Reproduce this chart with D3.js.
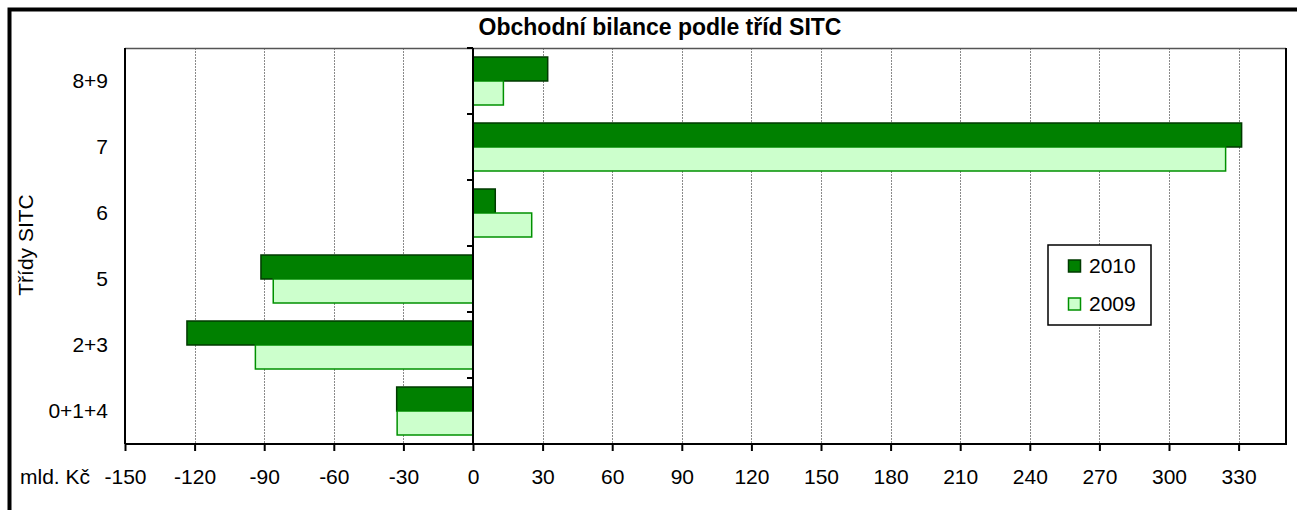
<!DOCTYPE html>
<html>
<head>
<meta charset="utf-8">
<script src="https://cdn.jsdelivr.net/npm/d3@7"></script>
<style>
  body { margin: 0; background: #fff; }
  svg text { font-family: "Liberation Sans", Arial, sans-serif; fill: #000; }
</style>
</head>
<body>
<svg id="chart" width="1297" height="510"></svg>
<script>
// SITC classes, top to bottom as in the chart
var categories = ["8+9", "7", "6", "5", "2+3", "0+1+4"];
var years = ["2010", "2009"];
// balance in bn CZK
var values2010 = [32.2, 331.3, 9.6, -91.4, -123.3, -32.9];
var values2009 = [13.1, 324.4, 25.3, -86.1, -93.8, -32.7];
var xTicks = [-150, -120, -90, -60, -30, 0, 30, 60, 90, 120, 150, 180, 210, 240, 270, 300, 330];

var fills = {"2010": "#008000", "2009": "#ccffcc"};
var strokes = {"2010": "#003a00", "2009": "#009000"};
var fs = 21;

var svg = d3.select("#chart");
var plot = {left: 125, right: 1285, top: 48, bottom: 444};

// outer frame (only top + left are inside the picture)
svg.append("rect")
  .attr("x", 9.5).attr("y", 9.5)
  .attr("width", 1400).attr("height", 600)
  .attr("fill", "none").attr("stroke", "#000").attr("stroke-width", 4);

var x = d3.scaleLinear().domain([-150, 350]).range([plot.left, plot.right]);
var y = d3.scaleBand().domain(categories).range([plot.top, plot.bottom]);
var yInner = d3.scaleBand().domain(years).range([0, y.bandwidth()]).paddingOuter(0.375);

// gridlines
svg.append("g").selectAll("line")
  .data(xTicks.filter(function(d) { return d != 0 && d != -150; }))
  .join("line")
  .attr("x1", function(d) { return Math.round(x(d)) + 0.5; })
  .attr("x2", function(d) { return Math.round(x(d)) + 0.5; })
  .attr("y1", plot.top).attr("y2", plot.bottom)
  .attr("stroke", "#8a8a8a").attr("stroke-width", 1)
  .attr("stroke-dasharray", "2,1");

// plot area frame
svg.append("line").attr("x1", plot.left).attr("x2", plot.right + 1)
  .attr("y1", plot.top + 0.5).attr("y2", plot.top + 0.5)
  .attr("stroke", "#555").attr("stroke-width", 1.5);
svg.append("line").attr("x1", plot.right + 1).attr("x2", plot.right + 1)
  .attr("y1", plot.top).attr("y2", plot.bottom)
  .attr("stroke", "#000").attr("stroke-width", 2);
svg.append("line").attr("x1", plot.left).attr("x2", plot.left)
  .attr("y1", plot.top).attr("y2", plot.bottom)
  .attr("stroke", "#000").attr("stroke-width", 2);

// bars
var rows = [];
categories.forEach(function(c, i) {
  rows.push({cat: c, year: "2010", v: values2010[i]});
  rows.push({cat: c, year: "2009", v: values2009[i]});
});

svg.append("g").selectAll("rect")
  .data(rows)
  .join("rect")
  .attr("x", function(d) { return x(Math.min(0, d.v)); })
  .attr("y", function(d) { return y(d.cat) + yInner(d.year); })
  .attr("width", function(d) { return Math.abs(x(d.v) - x(0)); })
  .attr("height", yInner.bandwidth())
  .attr("fill", function(d) { return fills[d.year]; })
  .attr("stroke", function(d) { return strokes[d.year]; })
  .attr("stroke-width", 1.5);

// x axis (bottom)
var xAxis = d3.axisBottom(x).tickValues(xTicks).tickSize(7).tickPadding(18)
  .tickFormat(function(d) { return d; });
var gx = svg.append("g").attr("transform", "translate(0," + plot.bottom + ")").call(xAxis);
gx.select(".domain").attr("stroke", "#000").attr("stroke-width", 2)
  .attr("d", "M" + plot.left + ",0H" + (plot.right + 2));
gx.selectAll(".tick line").attr("stroke", "#000").attr("stroke-width", 2);
gx.selectAll(".tick text").attr("font-size", fs)
  .attr("font-family", "Liberation Sans, Arial, sans-serif");

// category axis at zero
var boundaries = categories.map(function(c) { return y(c); }).concat([plot.bottom]);
svg.append("line").attr("x1", x(0)).attr("x2", x(0))
  .attr("y1", plot.top).attr("y2", plot.bottom)
  .attr("stroke", "#000").attr("stroke-width", 2);
svg.append("g").selectAll("line")
  .data(boundaries)
  .join("line")
  .attr("x1", x(0) - 6).attr("x2", x(0))
  .attr("y1", function(d) { return d; }).attr("y2", function(d) { return d; })
  .attr("stroke", "#000").attr("stroke-width", 2);

// category labels
svg.append("g").selectAll("text")
  .data(categories)
  .join("text")
  .attr("x", 108)
  .attr("y", function(d) { return y(d) + y.bandwidth() / 2; })
  .attr("dy", "0.35em")
  .attr("text-anchor", "end")
  .attr("font-size", fs)
  .text(function(d) { return d; });

// titles
svg.append("text")
  .attr("x", 660).attr("y", 35)
  .attr("text-anchor", "middle")
  .attr("font-size", 23).attr("font-weight", "bold")
  .text("Obchodní bilance podle tříd SITC");

svg.append("text")
  .attr("transform", "translate(33,245) rotate(-90)")
  .attr("text-anchor", "middle")
  .attr("font-size", fs)
  .text("Třídy SITC");

svg.append("text")
  .attr("x", 20).attr("y", 484)
  .attr("font-size", fs)
  .text("mld. Kč");

// legend
var lg = svg.append("g").attr("transform", "translate(1048,245)");
lg.append("rect").attr("width", 103).attr("height", 80)
  .attr("fill", "#fff").attr("stroke", "#000").attr("stroke-width", 1.5);
years.forEach(function(yr, i) {
  var row = lg.append("g").attr("transform", "translate(0," + (21 + i * 38) + ")");
  row.append("rect").attr("x", 20.5).attr("y", -6).attr("width", 12).attr("height", 12)
    .attr("fill", fills[yr]).attr("stroke", strokes[yr]).attr("stroke-width", 1.5);
  row.append("text").attr("x", 41).attr("y", 0).attr("dy", "0.35em")
    .attr("font-size", fs).text(yr);
});
</script>
</body>
</html>
